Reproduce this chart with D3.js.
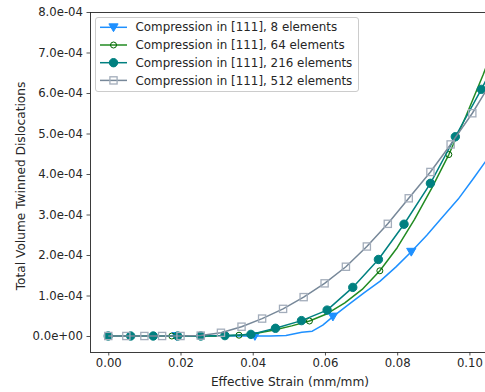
<!DOCTYPE html>
<html>
<head>
<meta charset="utf-8">
<script src="https://cdn.jsdelivr.net/npm/d3@7"></script>
<style>
  html, body { margin: 0; padding: 0; background: #fff; }
  svg { display: block; font-family: "DejaVu Sans", sans-serif; }
</style>
</head>
<body>
<svg id="chart" width="485" height="392"></svg>
<script>
// Effective strain (mm/mm) and twinned dislocation volume for each mesh size
const strain8  = [0, 0.0189, 0.0298, 0.0406, 0.0449, 0.0492, 0.0536, 0.0565, 0.0594, 0.0622, 0.0666, 0.0709, 0.0752, 0.0796, 0.0839, 0.0882, 0.0925, 0.0969, 0.1012, 0.1056];
const volume8  = [0, 0, 0, 0, 0, 0.01e-4, 0.09e-4, 0.12e-4, 0.27e-4, 0.48e-4, 0.78e-4, 1.07e-4, 1.35e-4, 1.70e-4, 2.08e-4, 2.49e-4, 2.93e-4, 3.38e-4, 3.90e-4, 4.45e-4];
const marks8   = [1, 3, 9, 14];

const strain64 = [0, 0.0044, 0.0088, 0.0132, 0.0176, 0.0222, 0.0269, 0.0315, 0.0362, 0.0411, 0.0460, 0.0508, 0.0557, 0.0606, 0.0655, 0.0703, 0.0752, 0.0800, 0.0848, 0.0895, 0.0943, 0.0990, 0.1038, 0.1085];
const volume64 = [0, 0, 0, 0, 0, 0, 0, 0, 0.02e-4, 0.07e-4, 0.15e-4, 0.25e-4, 0.37e-4, 0.55e-4, 0.82e-4, 1.15e-4, 1.61e-4, 2.18e-4, 2.88e-4, 3.64e-4, 4.48e-4, 5.42e-4, 6.45e-4, 7.55e-4];
const marks64  = [0, 4, 8, 12, 16, 20];

const strain216 = [0, 0.0062, 0.01245, 0.0192, 0.0256, 0.0323, 0.0395, 0.0463, 0.0535, 0.0606, 0.0677, 0.0748, 0.0819, 0.0892, 0.0961, 0.1033, 0.1103];
const volume216 = [0, 0, 0, 0, 0, 0.01e-4, 0.04e-4, 0.19e-4, 0.38e-4, 0.64e-4, 1.20e-4, 1.89e-4, 2.76e-4, 3.77e-4, 4.92e-4, 6.09e-4, 7.30e-4];

const strain512 = [0, 0.0050, 0.0100, 0.0149, 0.0200, 0.0256, 0.0312, 0.0369, 0.0426, 0.0484, 0.0541, 0.0599, 0.0658, 0.0716, 0.0774, 0.0832, 0.0892, 0.0948, 0.1008, 0.1066];
const volume512 = [0, 0, 0, 0, 0, 0.01e-4, 0.08e-4, 0.23e-4, 0.43e-4, 0.67e-4, 0.96e-4, 1.30e-4, 1.71e-4, 2.21e-4, 2.77e-4, 3.40e-4, 4.05e-4, 4.73e-4, 5.50e-4, 6.35e-4];

const seriesNames = [
  "Compression in [111], 8 elements",
  "Compression in [111], 64 elements",
  "Compression in [111], 216 elements",
  "Compression in [111], 512 elements"
];

const xTicks = [0, 0.02, 0.04, 0.06, 0.08, 0.10];
const xTickLabels = ["0.00", "0.02", "0.04", "0.06", "0.08", "0.10"];
const yTicks = [0, 1e-4, 2e-4, 3e-4, 4e-4, 5e-4, 6e-4, 7e-4, 8e-4];
const yTickLabels = ["0.0e+00", "1.0e-04", "2.0e-04", "3.0e-04", "4.0e-04", "5.0e-04", "6.0e-04", "7.0e-04", "8.0e-04"];

const xLabel = "Effective Strain (mm/mm)";
const yLabel = "Total Volume Twinned Dislocations";

// Layout
const svg = d3.select("#chart");
const plotL = 90, plotT = 12, plotR = 490, plotB = 352;

const x = d3.scaleLinear().domain([-0.00506, 0.1057]).range([plotL, plotR]);
const y = d3.scaleLinear().domain([-0.0000395, 0.0008]).range([plotB, plotT]);

const zip = (xs, ys) => xs.map((v, i) => ({ x: v, y: ys[i] }));

const series = [
  { name: seriesNames[0], pts: zip(strain8, volume8), marks: marks8,
    line: "#1e90ff", stroke: "#1e90ff", fill: "#1e90ff", marker: "triDown" },
  { name: seriesNames[1], pts: zip(strain64, volume64), marks: marks64,
    line: "#228b22", stroke: "#006400", fill: "none", marker: "circleSmall" },
  { name: seriesNames[2], pts: zip(strain216, volume216), marks: strain216.map((_, i) => i),
    line: "#008080", stroke: "#008080", fill: "#008080", marker: "circle" },
  { name: seriesNames[3], pts: zip(strain512, volume512), marks: strain512.map((_, i) => i),
    line: "#778899", stroke: "#a3adbb", fill: "none", marker: "square" }
];

svg.append("defs").append("clipPath").attr("id", "plotClip")
  .append("rect").attr("x", plotL).attr("y", plotT)
  .attr("width", plotR - plotL).attr("height", plotB - plotT);

function drawMarker(g, type, cx, cy, s) {
  if (type === "triDown") {
    const r = 4.6;
    g.append("path")
      .attr("d", `M${cx - r},${cy - r * 0.75}L${cx + r},${cy - r * 0.75}L${cx},${cy + r * 0.95}Z`)
      .attr("fill", s.fill).attr("stroke", s.stroke).attr("stroke-width", 1);
  } else if (type === "circleSmall") {
    g.append("circle").attr("cx", cx).attr("cy", cy).attr("r", 3)
      .attr("fill", s.fill).attr("stroke", s.stroke).attr("stroke-width", 1);
  } else if (type === "circle") {
    g.append("circle").attr("cx", cx).attr("cy", cy).attr("r", 4.2)
      .attr("fill", s.fill).attr("stroke", s.stroke).attr("stroke-width", 1);
  } else if (type === "square") {
    g.append("rect").attr("x", cx - 3.6).attr("y", cy - 3.6)
      .attr("width", 7.2).attr("height", 7.2)
      .attr("fill", s.fill).attr("stroke", s.stroke).attr("stroke-width", 1.3);
  }
}

const plot = svg.append("g").attr("clip-path", "url(#plotClip)");
const lineGen = d3.line().x(d => x(d.x)).y(d => y(d.y));

series.forEach(s => {
  const g = plot.append("g");
  g.append("path").datum(s.pts)
    .attr("d", lineGen)
    .attr("fill", "none").attr("stroke", s.line)
    .attr("stroke-width", 1.5).attr("stroke-linejoin", "round");
  s.marks.forEach(i => drawMarker(g, s.marker, x(s.pts[i].x), y(s.pts[i].y), s));
});

// Axes
const xAxis = d3.axisBottom(x).tickValues(xTicks)
  .tickFormat((d, i) => xTickLabels[i]).tickSize(3.5).tickPadding(3.5);
const yAxis = d3.axisLeft(y).tickValues(yTicks)
  .tickFormat((d, i) => yTickLabels[i]).tickSize(3.5).tickPadding(3.5);

const gx = svg.append("g").attr("transform", `translate(0,${plotB})`).call(xAxis);
const gy = svg.append("g").attr("transform", `translate(${plotL},0)`).call(yAxis);
[gx, gy].forEach(g => {
  g.select(".domain").remove();
  g.selectAll("text").attr("font-size", 11.7).attr("fill", "#262626")
    .attr("font-family", "DejaVu Sans, sans-serif");
  g.selectAll("line").attr("stroke", "#262626").attr("stroke-width", 0.8);
});

// Spines: left, bottom, top
svg.append("path")
  .attr("d", `M${plotL},${plotT}V${plotB}H${plotR}M${plotL},${plotT}H${plotR}`)
  .attr("fill", "none").attr("stroke", "#262626").attr("stroke-width", 0.9)
  .attr("shape-rendering", "crispEdges");

svg.append("text").attr("x", 290).attr("y", 386)
  .attr("text-anchor", "middle").attr("font-size", 12.2).attr("fill", "#262626")
  .text(xLabel);

svg.append("text")
  .attr("transform", `translate(25,186) rotate(-90)`)
  .attr("text-anchor", "middle").attr("font-size", 12.2).attr("fill", "#262626")
  .text(yLabel);

// Legend
const lg = svg.append("g");
lg.append("rect").attr("x", 95.5).attr("y", 17.5).attr("width", 263).attr("height", 74)
  .attr("rx", 2.5).attr("fill", "#ffffff").attr("fill-opacity", 0.8)
  .attr("stroke", "#cccccc").attr("stroke-width", 1);
series.forEach((s, i) => {
  const cy = 27.3 + i * 17.7;
  lg.append("line").attr("x1", 100).attr("x2", 127).attr("y1", cy).attr("y2", cy)
    .attr("stroke", s.line).attr("stroke-width", 1.5);
  drawMarker(lg, s.marker, 113.5, cy, s);
  lg.append("text").attr("x", 135.5).attr("y", cy).attr("dy", "0.35em")
    .attr("font-size", 11.9).attr("fill", "#262626").text(s.name);
});
</script>
</body>
</html>
